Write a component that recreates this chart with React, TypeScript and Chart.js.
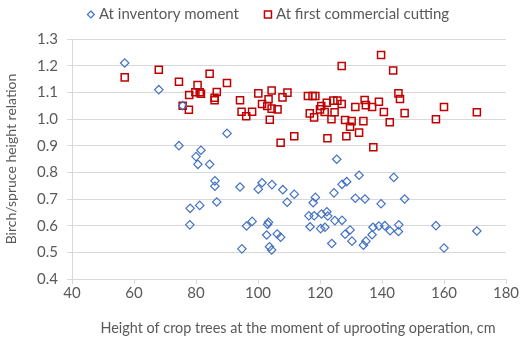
import React, { useEffect, useRef } from "react";
import { Chart, registerables } from "chart.js";

Chart.register(...registerables);

const seriesLabels = ["At inventory moment", "At first commercial cutting"];
const xTitle = "Height of crop trees at the moment of uprooting operation, cm";
const yTitle = "Birch/spruce height relation";

const inventoryX = [57, 68, 74.5, 75.7, 81.6, 80, 80.6, 84.4, 86.1, 86.1, 94.2, 86.7, 78.1, 81.2, 78, 90, 101.3, 100.1, 104.5, 108, 109.4, 96.3, 98.1, 103.4, 103.1, 102.8, 106.2, 107.3, 94.8, 103.7, 104.4, 111.7, 125.4, 127.1, 128.6, 132.6, 124.5, 143.8, 131.4, 134.5, 139.7, 118.5, 117.8, 116.4, 118.1, 120.5, 122.2, 122.5, 124.8, 127.1, 116.8, 120.2, 121.6, 129.7, 128.1, 123.8, 130.3, 134, 134.8, 136.8, 137.1, 139, 140.9, 142.6, 145.4, 145.3, 147.3, 157.4, 170.6, 160];
const inventoryY = [1.21, 1.11, 0.9, 1.05, 0.883, 0.859, 0.83, 0.83, 0.768, 0.748, 0.745, 0.689, 0.665, 0.676, 0.603, 0.946, 0.761, 0.737, 0.754, 0.735, 0.688, 0.599, 0.616, 0.613, 0.605, 0.565, 0.569, 0.557, 0.513, 0.521, 0.509, 0.718, 0.849, 0.755, 0.765, 0.789, 0.723, 0.781, 0.703, 0.7, 0.682, 0.706, 0.686, 0.637, 0.637, 0.644, 0.652, 0.636, 0.619, 0.62, 0.596, 0.589, 0.594, 0.584, 0.568, 0.533, 0.542, 0.527, 0.542, 0.566, 0.594, 0.599, 0.6, 0.581, 0.603, 0.578, 0.7, 0.6, 0.58, 0.516];

const cuttingX = [57, 68, 74.5, 75.7, 77.8, 80.5, 79.8, 81.2, 81.6, 84.4, 86.7, 86, 86, 90, 77.7, 94.2, 94.7, 96.2, 98.1, 100.1, 104.4, 101.3, 103.4, 103, 104.4, 106.3, 103.8, 107.9, 109.5, 107.3, 111.7, 116.1, 117.6, 118.5, 116.7, 118.1, 120.4, 120, 121.5, 122.2, 124.3, 125.6, 127, 124.7, 123.7, 127, 122.4, 128.1, 130.2, 129.7, 128.5, 132.6, 131.4, 134, 134.4, 134.8, 136.8, 139, 140.6, 142.5, 137.2, 139.7, 143.6, 145.3, 145.8, 147.3, 160, 157.4, 170.6];
const cuttingY = [1.156, 1.185, 1.14, 1.05, 1.09, 1.127, 1.1, 1.1, 1.095, 1.17, 1.101, 1.08, 1.07, 1.135, 1.035, 1.07, 1.027, 1.01, 1.027, 1.096, 1.107, 1.056, 1.074, 1.049, 1.039, 1.036, 0.997, 1.081, 1.099, 0.911, 0.935, 1.086, 1.086, 1.086, 1.021, 1.006, 1.049, 1.036, 1.026, 1.061, 1.069, 1.069, 1.056, 1.025, 0.999, 1.199, 0.928, 0.996, 0.992, 0.971, 0.935, 0.949, 1.045, 0.992, 1.071, 1.052, 1.045, 1.065, 1.026, 0.988, 0.894, 1.24, 1.182, 1.096, 1.075, 1.022, 1.045, 0.999, 1.025];

const xMin = 40, xMax = 180, xStep = 20;
const yMin = 0.4, yMax = 1.3, yStep = 0.1;

const FONT = "Lato, 'Open Sans', sans-serif";
const TEXT = "#595959";
const GRID = "#d9d9d9";
const BLUE = "#4472c4";
const RED = "#c00000";

const legendPlugin = {
  id: "topLegend",
  afterDraw(chart: any) {
    const ctx = chart.ctx;
    ctx.save();
    ctx.font = `15px ${FONT}`;
    ctx.textBaseline = "middle";
    ctx.textAlign = "left";
    const ds = chart.data.datasets;
    const markerW = 8;
    const gap = 4;
    const spacing = 25;
    const widths = ds.map((d: any) => markerW + gap + ctx.measureText(d.label).width);
    const total = widths.reduce((a: number, b: number) => a + b, 0) + spacing * (ds.length - 1);
    let x = chart.width / 2 - total / 2 + 3;
    const y = 14.5;
    ds.forEach((d: any, i: number) => {
      const cx = x + markerW / 2;
      ctx.strokeStyle = d.borderColor;
      ctx.lineWidth = d.borderWidth;
      ctx.beginPath();
      if (d.pointStyle === "rectRot") {
        const r = 3.5;
        ctx.moveTo(cx, y - r);
        ctx.lineTo(cx + r, y);
        ctx.lineTo(cx, y + r);
        ctx.lineTo(cx - r, y);
        ctx.closePath();
      } else {
        ctx.rect(cx - 3.5, y - 3.5, 7, 7);
      }
      ctx.stroke();
      ctx.fillStyle = TEXT;
      ctx.fillText(d.label, x + markerW + gap, y);
      x += widths[i] + spacing;
    });
    // x-axis title, centred slightly right of the plot centre as in the reference
    const area = chart.chartArea;
    ctx.font = `14.4px ${FONT}`;
    ctx.textAlign = "center";
    ctx.fillText(xTitle, (area.left + area.right) / 2 + 9, chart.height - 13);
    ctx.restore();
  },
};

export default function App() {
  const ref = useRef<HTMLCanvasElement>(null);
  useEffect(() => {
    if (!ref.current) return;
    const chart = new Chart(ref.current, {
      type: "scatter",
      data: {
        datasets: [
          {
            label: seriesLabels[0],
            data: inventoryX.map((x, i) => ({ x, y: inventoryY[i] })),
            pointStyle: "rectRot",
            pointRadius: 4.2,
            borderColor: BLUE,
            backgroundColor: "rgba(0,0,0,0)",
            borderWidth: 1.2,
          },
          {
            label: seriesLabels[1],
            data: cuttingX.map((x, i) => ({ x, y: cuttingY[i] })),
            pointStyle: "rect",
            pointRadius: 5,
            borderColor: RED,
            backgroundColor: "rgba(0,0,0,0)",
            borderWidth: 1.5,
          },
        ],
      },
      options: {
        animation: false,
        responsive: false,
        maintainAspectRatio: false,
        layout: { padding: { top: 39, right: 24, left: 0, bottom: 0 } },
        plugins: { legend: { display: false }, tooltip: { enabled: false } },
        scales: {
          x: {
            type: "linear",
            min: xMin,
            max: xMax,
            afterFit: (s: any) => { s.height = 62; },
            ticks: { stepSize: xStep, color: TEXT, font: { family: FONT, size: 15 }, padding: 0 },
            grid: { drawOnChartArea: false, drawTicks: true, tickLength: 5, color: GRID },
            border: { display: true, color: GRID },
            title: { display: false, text: xTitle },
          },
          y: {
            type: "linear",
            min: yMin,
            max: yMax,
            afterFit: (s: any) => { s.width = 72; },
            ticks: { stepSize: yStep, color: TEXT, font: { family: FONT, size: 15 }, padding: 9, callback: (v: any) => Number(v).toFixed(1) },
            grid: { drawTicks: true, tickLength: 5, color: GRID },
            border: { display: true, color: GRID },
            title: { display: true, text: yTitle, color: TEXT, font: { family: FONT, size: 14 }, padding: { top: 3, bottom: 0 } },
          },
        },
      },
      plugins: [legendPlugin],
    });
    return () => chart.destroy();
  }, []);
  return (
    <div style={{ position: "fixed", left: 0, top: 0, width: 530, height: 341, background: "#fff" }}>
      <canvas ref={ref} width={530} height={341} style={{ width: 530, height: 341 }} />
    </div>
  );
}
